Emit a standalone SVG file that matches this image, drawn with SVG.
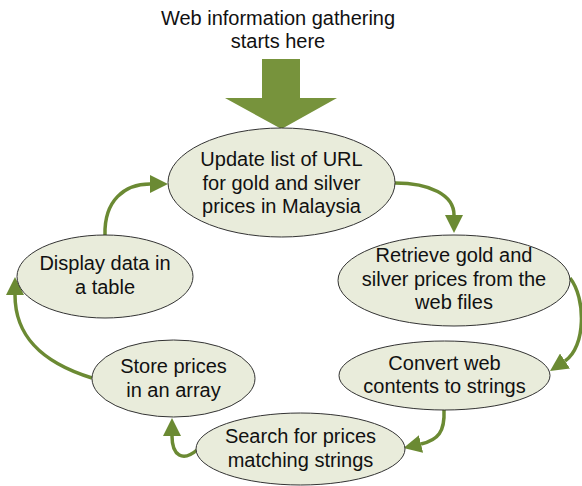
<svg xmlns="http://www.w3.org/2000/svg" width="582" height="486" viewBox="0 0 582 486">
<defs>
<style>
text{font-family:"Liberation Sans",Arial,sans-serif;font-size:20px;fill:#111;text-anchor:middle}
.n ellipse{fill:#e9ecdb;stroke:#333;stroke-width:1}
.c path{fill:none;stroke:#6b8a33;stroke-width:3.5}
</style>
<marker id="ah" markerUnits="userSpaceOnUse" markerWidth="18" markerHeight="18" refX="0" refY="9" orient="auto" viewBox="0 0 18 18">
<path d="M0,0 L18,9 L0,18 z" fill="#6b8a33"/>
</marker>
</defs>
<rect width="582" height="486" fill="#fff"/>
<g id="title">
<text x="278" y="25">Web information gathering</text>
<text x="278" y="48">starts here</text>
</g>
<g id="start-arrow">
<polygon points="262,59 300,59 300,98 337,98 281.5,129 225,98 262,98" fill="#77933c"/>
</g>
<g class="c" id="connectors">
<path d="M395,183 C430,183 454,195 454,215" marker-end="url(#ah)"/>
<path d="M570,278 C586,298 586,347 565,361" marker-end="url(#ah)"/>
<path d="M444,410 C445,432 438,440 421,444" marker-end="url(#ah)"/>
<path d="M197,450 C183,462 172,456 172,436" marker-end="url(#ah)"/>
<path d="M92,378 C40,362 15,335 15,295" marker-end="url(#ah)"/>
<path d="M105,235 C104,200 125,184 150,184" marker-end="url(#ah)"/>
</g>
<g class="n" id="update">
<ellipse cx="281.5" cy="182.5" rx="113.5" ry="54.5"/>
<text x="281.5" y="166">Update list of URL</text>
<text x="281.5" y="190">for gold and silver</text>
<text x="281.5" y="213">prices in Malaysia</text>
</g>
<g class="n" id="retrieve">
<ellipse cx="454" cy="280.5" rx="116" ry="45.5"/>
<text x="454" y="262">Retrieve gold and</text>
<text x="454" y="286">silver prices from the</text>
<text x="454" y="309">web files</text>
</g>
<g class="n" id="convert">
<ellipse cx="444.5" cy="375.5" rx="105.5" ry="34.5"/>
<text x="444.5" y="370">Convert web</text>
<text x="444.5" y="393">contents to strings</text>
</g>
<g class="n" id="search">
<ellipse cx="300.5" cy="449" rx="104.5" ry="36"/>
<text x="300.5" y="443">Search for prices</text>
<text x="300.5" y="467">matching strings</text>
</g>
<g class="n" id="store">
<ellipse cx="173.5" cy="378.5" rx="81.5" ry="38.5"/>
<text x="173.5" y="373">Store prices</text>
<text x="173.5" y="397">in an array</text>
</g>
<g class="n" id="display">
<ellipse cx="105" cy="276.5" rx="88" ry="41.5"/>
<text x="105" y="270">Display data in</text>
<text x="105" y="294">a table</text>
</g>
</svg>
